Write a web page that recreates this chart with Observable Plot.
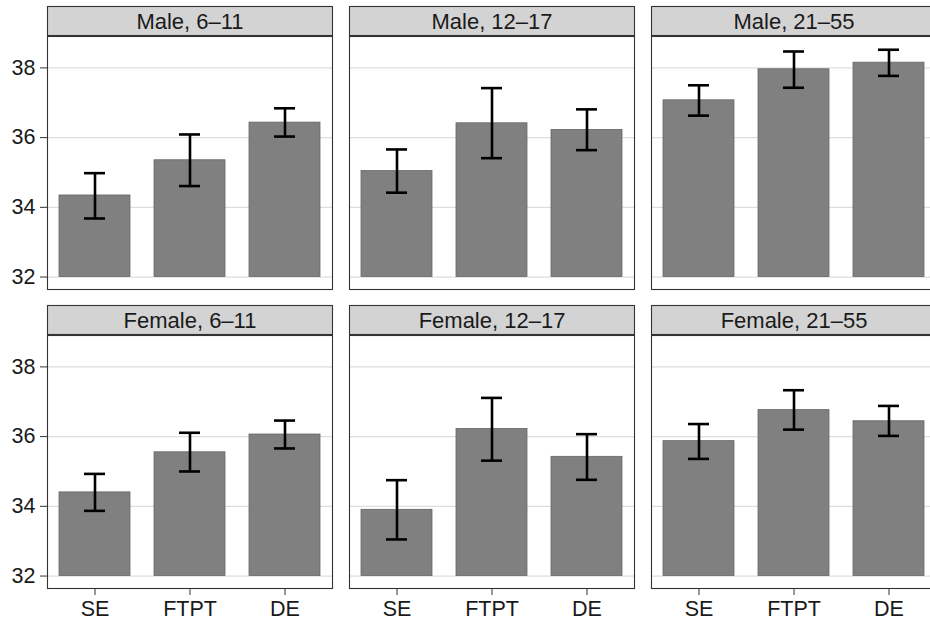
<!DOCTYPE html>
<html>
<head>
<meta charset="utf-8">
<script src="https://cdn.jsdelivr.net/npm/d3@7"></script>
<script src="https://cdn.jsdelivr.net/npm/@observablehq/plot@0.6"></script>
<style>
  html, body { margin: 0; padding: 0; background: #fff; overflow: hidden; }
  #chart { width: 930px; height: 623px; overflow: hidden; }
  #chart svg { max-width: none !important; height: 623px !important; display: block; }
</style>
</head>
<body>
<div id="chart"></div>
<script>
// ---- data ----
const conditions = ["SE", "FTPT", "DE"];
const ages = ["6–11", "12–17", "21–55"];
const sexes = ["Male", "Female"];
const yTicks = [32, 34, 36, 38];
const baseline = 32;

// values in order: ages x conditions
const maleMean  = [34.34, 35.35, 36.43,  35.04, 36.41, 36.22,  37.07, 37.96, 38.15];
const maleLower = [33.68, 34.61, 36.03,  34.42, 35.41, 35.64,  36.63, 37.43, 37.77];
const maleUpper = [34.98, 36.09, 36.84,  35.66, 37.42, 36.81,  37.50, 38.47, 38.52];

const femaleMean  = [34.40, 35.55, 36.06,  33.90, 36.22, 35.42,  35.87, 36.76, 36.44];
const femaleLower = [33.87, 35.00, 35.66,  33.05, 35.31, 34.76,  35.36, 36.20, 36.02];
const femaleUpper = [34.93, 36.11, 36.46,  34.75, 37.11, 36.07,  36.36, 37.33, 36.88];

// ---- build tables ----
const series = {
  Male:   {mean: maleMean, lo: maleLower, hi: maleUpper},
  Female: {mean: femaleMean, lo: femaleLower, hi: femaleUpper}
};
const rows = [];
const panels = [];
for (const sex of sexes) {
  ages.forEach((age, a) => {
    panels.push({sex, age, label: `${sex}, ${age}`});
    conditions.forEach((cond, c) => {
      const i = a * conditions.length + c;
      rows.push({sex, age, cond, mean: series[sex].mean[i], lo: series[sex].lo[i], hi: series[sex].hi[i]});
    });
  });
}

const font = "'Liberation Sans', Arial, Helvetica, sans-serif";
const ink = "#1a1a1a";

const chart = Plot.plot({
  width: 940,
  height: 623,
  marginTop: 5,
  marginRight: 2,
  marginBottom: 34,
  marginLeft: 46,
  style: {fontFamily: font, fontSize: "21px", color: ink, background: "#fff"},
  fx: {domain: ages, paddingInner: 0.0561, paddingOuter: 0, axis: null, label: null},
  fy: {domain: sexes, paddingInner: 0.0533, paddingOuter: 0, axis: null, label: null},
  x: {domain: conditions, paddingInner: 0.25, paddingOuter: 0.125, label: null},
  y: {domain: [31.643, 38.9], insetTop: 30, label: null},
  marks: [
    Plot.ruleY(yTicks, {stroke: "#dedede", strokeWidth: 1.2}),
    Plot.barY(rows, {fx: "age", fy: "sex", x: "cond", y1: baseline, y2: "mean",
      fill: "#808080", stroke: "#666", strokeWidth: 0.8}),
    Plot.ruleX(rows, {fx: "age", fy: "sex", x: "cond", y1: "lo", y2: "hi",
      stroke: "#000", strokeWidth: 2.6}),
    Plot.tickY(rows, {fx: "age", fy: "sex", x: "cond", y: "lo",
      stroke: "#000", strokeWidth: 2.6, inset: 25}),
    Plot.tickY(rows, {fx: "age", fy: "sex", x: "cond", y: "hi",
      stroke: "#000", strokeWidth: 2.6, inset: 25}),
    Plot.frame({insetTop: 30, stroke: "#333", strokeWidth: 1.1}),
    Plot.frame({insetBottom: 254, fill: "#d3d3d3", stroke: "#333", strokeWidth: 1.1}),
    Plot.text(panels, {fx: "age", fy: "sex", text: "label", frameAnchor: "top",
      lineAnchor: "middle", dy: 15, fontSize: 22, fill: ink}),
    Plot.axisY({ticks: yTicks, tickSize: 7, tickPadding: 5, fontSize: 21.5,
      label: null, stroke: "#333", fill: ink}),
    Plot.axisX({tickSize: 7, tickPadding: 5, fontSize: 21.5, label: null,
      stroke: "#333", fill: ink})
  ]
});

document.getElementById("chart").appendChild(chart);
</script>
</body>
</html>
